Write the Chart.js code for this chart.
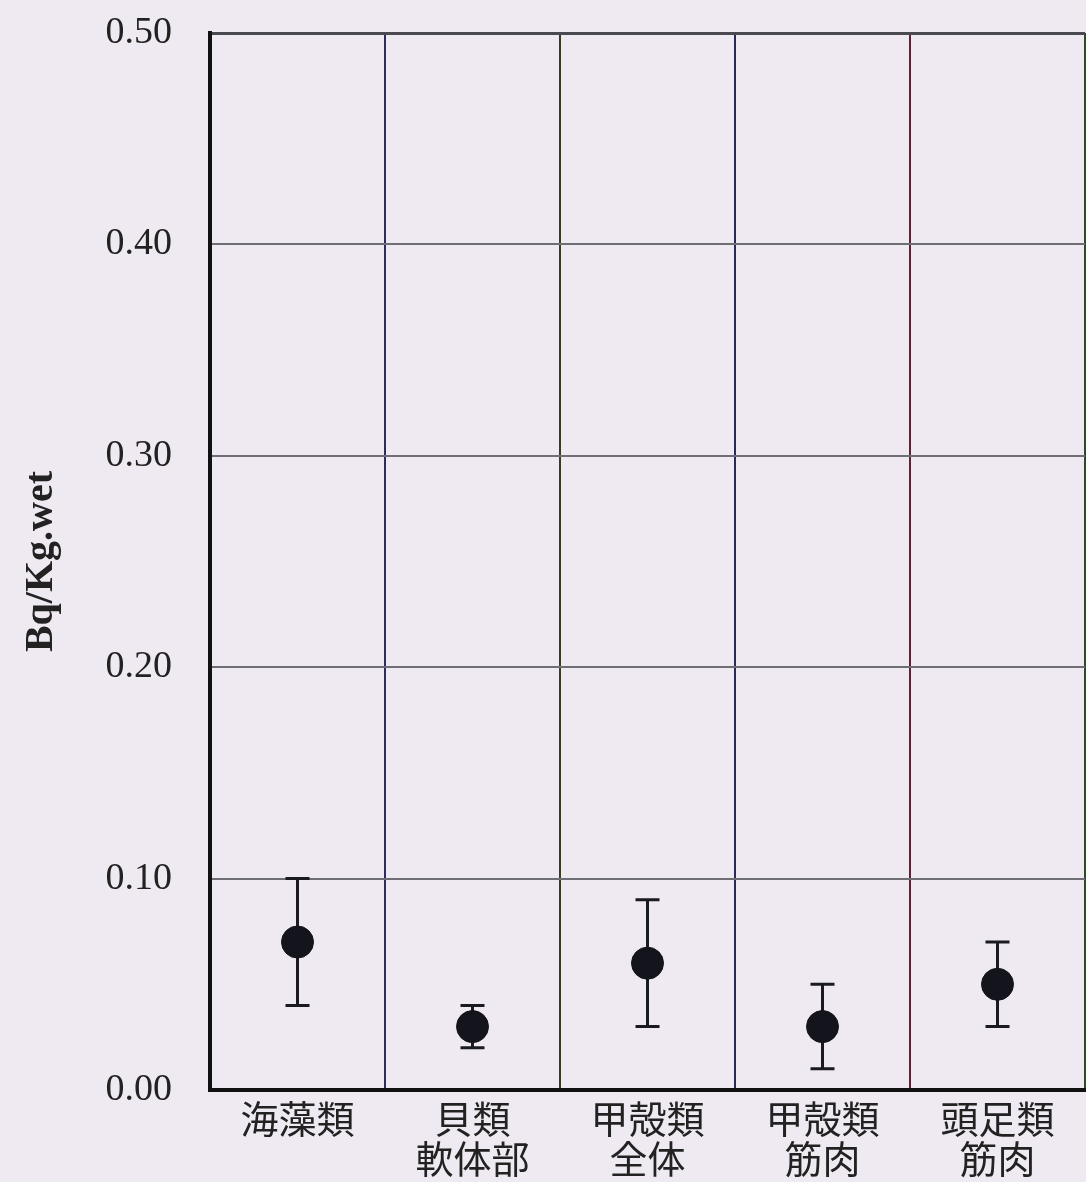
<!DOCTYPE html>
<html>
<head>
<meta charset="utf-8">
<script src="https://cdn.jsdelivr.net/npm/chart.js@4/dist/chart.umd.min.js"></script>
<style>
  html, body { margin: 0; padding: 0; background: #efeaf1; }
  canvas { display: block; }
</style>
</head>
<body>
<canvas id="chart" width="1086" height="1182"></canvas>
<script>
// 分類ごとの平均値と範囲 (Bq/Kg.wet)
const categories = [["海藻類"], ["貝類", "軟体部"], ["甲殻類", "全体"], ["甲殻類", "筋肉"], ["頭足類", "筋肉"]]
const means = [0.07, 0.03, 0.06, 0.03, 0.05]
const lows  = [0.04, 0.02, 0.03, 0.01, 0.03]
const highs = [0.10, 0.04, 0.09, 0.05, 0.07]
const yTicks = [0.00, 0.10, 0.20, 0.30, 0.40, 0.50]

// 区切り線の色 (わずかに色味が違う)
const dividerColors = ["#1c1c24", "#2c2c5e", "#3a3a22", "#2a2a56", "#5a2232", "#2e4a26"]

const serif = "'Liberation Serif', 'Noto Sans CJK JP', serif"

// 背景
const paperBg = {
    id: "paperBg",
    beforeDraw(chart) {
        const ctx = chart.ctx
        ctx.save()
        ctx.fillStyle = "#efeaf1"
        ctx.fillRect(0, 0, chart.width, chart.height)
        ctx.restore()
    }
}

// 誤差範囲 (最小〜最大) の縦線とキャップ
const errorBars = {
    id: "errorBars",
    beforeDatasetsDraw(chart) {
        const ctx = chart.ctx
        const x = chart.scales.x
        const y = chart.scales.y
        ctx.save()
        ctx.strokeStyle = "#1a1a22"
        ctx.lineWidth = 3
        means.forEach((m, i) => {
            const px = x.getPixelForValue(i)
            const top = y.getPixelForValue(highs[i])
            const bot = y.getPixelForValue(lows[i])
            ctx.beginPath()
            ctx.moveTo(px, top)
            ctx.lineTo(px, bot)
            ctx.moveTo(px - 12, top)
            ctx.lineTo(px + 12, top)
            ctx.moveTo(px - 12, bot)
            ctx.lineTo(px + 12, bot)
            ctx.stroke()
        })
        ctx.restore()
    }
}

new Chart(document.getElementById("chart"), {
    type: "line",
    data: {
        labels: categories,
        datasets: [{
            data: means,
            showLine: false,
            pointRadius: 16,
            pointHoverRadius: 16,
            pointBackgroundColor: "#14141c",
            pointBorderColor: "#14141c",
            pointBorderWidth: 1
        }]
    },
    options: {
        responsive: false,
        animation: false,
        layout: { autoPadding: false, padding: { top: 33, right: 1, left: 0, bottom: 0 } },
        plugins: {
            legend: { display: false },
            tooltip: { enabled: false }
        },
        scales: {
            x: {
                type: "category",
                offset: true,
                afterFit: s => {
                    s.height = 92
                    s.paddingLeft = 0
                    s.paddingRight = 0
                },
                grid: {
                    offset: true,
                    drawTicks: false,
                    lineWidth: 2,
                    color: c => dividerColors[c.index] || dividerColors[5]
                },
                border: { color: "#111111", width: 4 },
                ticks: {
                    color: "#222222",
                    padding: 13,
                    maxRotation: 0,
                    font: { family: serif, size: 38, lineHeight: 1.05 }
                }
            },
            y: {
                min: 0,
                max: 0.5,
                afterFit: s => {
                    s.width = 210
                    s.paddingTop = 0
                    s.paddingBottom = 0
                },
                afterBuildTicks: s => { s.ticks = yTicks.map(v => ({ value: v })) },
                grid: {
                    drawTicks: false,
                    lineWidth: c => c.tick && c.tick.value === 0.5 ? 3 : 2,
                    color: c => c.tick && c.tick.value === 0.5 ? "#4a4a50" : "#6e6e74"
                },
                border: { color: "#111111", width: 4 },
                ticks: {
                    color: "#222222",
                    padding: 38,
                    font: { family: serif, size: 38 },
                    callback: v => Number(v).toFixed(2)
                },
                title: {
                    display: true,
                    text: "Bq/Kg.wet",
                    color: "#222222",
                    padding: { top: 18, bottom: 0 },
                    font: { family: serif, size: 40, weight: "bold" }
                }
            }
        }
    },
    plugins: [paperBg, errorBars]
})
</script>
</body>
</html>
